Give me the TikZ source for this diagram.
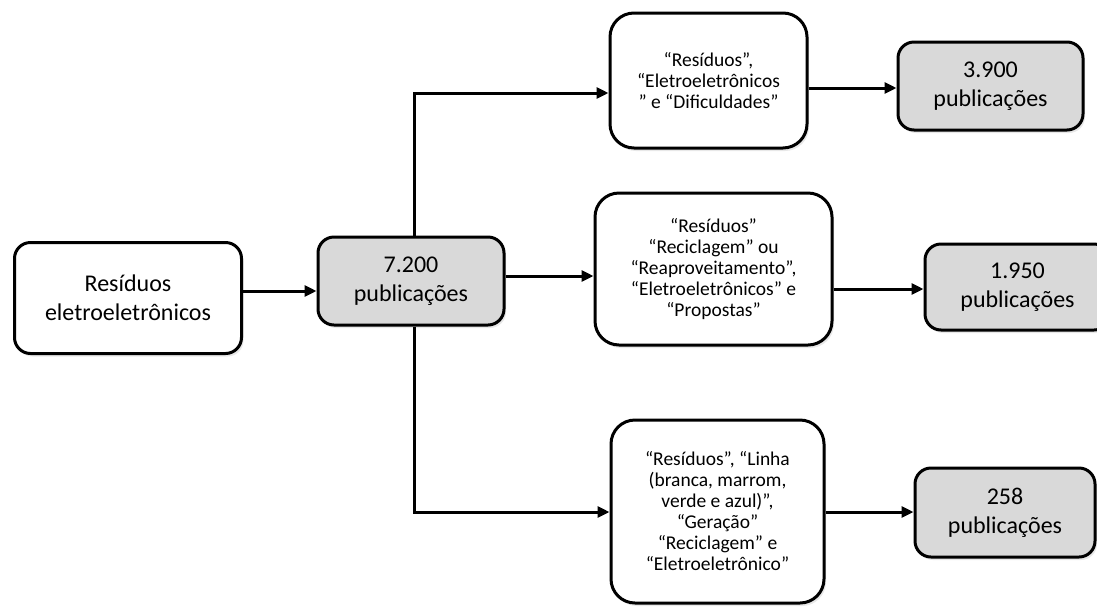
\documentclass[tikz,border=0pt]{standalone}
\usepackage{fontspec}
\setmainfont{Carlito}
\usetikzlibrary{arrows.meta,shadows}
\definecolor{boxgray}{HTML}{D9D9D9}
\tikzset{
  box/.style={draw=black, line width=3pt, rounded corners=16pt, align=center, inner sep=2pt,
    drop shadow={shadow xshift=2pt, shadow yshift=-3pt, opacity=0.18}},
  bigtext/.style={font=\fontsize{24}{29}\selectfont},
  smalltext/.style={font=\fontsize{19.5}{21}\selectfont},
  whitebox/.style={box, fill=white},
  graybox/.style={box, fill=boxgray},
  qbox/.style={box, fill=white, rounded corners=24pt, smalltext},
  arr/.style={line width=3pt, -{Triangle[length=12pt,width=11pt]}}
}
\begin{document}
\begin{tikzpicture}[x=1pt,y=-1pt]
\useasboundingbox (0,0) rectangle (1097,606);
\node[whitebox, bigtext, minimum width=227pt, minimum height=111pt] (A) at (128,298) {Resíduos\\eletroeletrônicos};
\node[graybox, bigtext, minimum width=186pt, minimum height=88pt] (B) at (411,281) {7.200\\publicações};
\node[qbox, minimum width=197pt, minimum height=135pt] (C1) at (708.5,80.5) {“Resíduos”,\\“Eletroeletrônicos\\” e “Dificuldades”};
\node[qbox, minimum width=237pt, minimum height=152pt] (C2) at (713.5,269) {“Resíduos”\\“Reciclagem” ou\\“Reaproveitamento”,\\“Eletroeletrônicos” e\\“Propostas”};
\node[qbox, minimum width=213pt, minimum height=183pt] (C3) at (717.5,511.5) {“Resíduos”, “Linha\\(branca, marrom,\\verde e azul)”,\\“Geração”\\“Reciclagem” e\\“Eletroeletrônico”};
\node[graybox, bigtext, minimum width=185pt, minimum height=88pt] (D1) at (990.5,86) {3.900\\publicações};
\node[graybox, bigtext, minimum width=185pt, minimum height=86pt] (D2) at (1017.5,287) {1.950\\publicações};
\node[graybox, bigtext, minimum width=180pt, minimum height=89pt] (D3) at (1005,512.5) {258\\publicações};
% helper coordinates for connector heights
\coordinate (yAB) at (0,291);
\coordinate (yBC2) at (0,276);
\coordinate (yTop) at (0,93);
\coordinate (yBot) at (0,512);
\coordinate (xV) at (414,0);
\coordinate (yC1) at (0,88);
\coordinate (yC2) at (0,289);
\coordinate (yC3) at (0,512);
\coordinate (vTop) at (xV |- yTop);
\coordinate (vBot) at (xV |- yBot);
\draw[arr] (A.east |- yAB) -- (B.west |- yAB);
\draw[arr] (B.east |- yBC2) -- (C2.west |- yBC2);
\draw[arr] (xV |- B.north) -- (vTop) -- (C1.west |- yTop);
\draw[arr] (xV |- B.south) -- (vBot) -- (C3.west |- yBot);
\draw[arr] (C1.east |- yC1) -- (D1.west |- yC1);
\draw[arr] (C2.east |- yC2) -- (D2.west |- yC2);
\draw[arr] (C3.east |- yC3) -- (D3.west |- yC3);
\end{tikzpicture}
\end{document}
